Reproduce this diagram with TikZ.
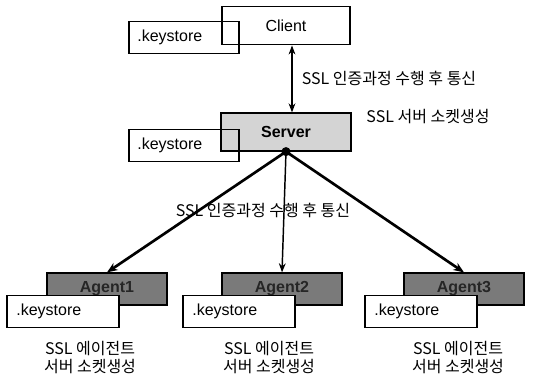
\documentclass[tikz,border=0pt]{standalone}
\usepackage{fontspec}
\setmainfont{Liberation Sans}
\newfontfamily\krfont{Noto Sans CJK KR}
\usetikzlibrary{arrows.meta, positioning}

\begin{document}
\begin{tikzpicture}[
    x=0.75pt, y=-0.75pt,
    every node/.style={font=\fontsize{12}{14}\selectfont},
    hostbox/.style={draw, line width=0.9pt, minimum width=96pt, minimum height=29pt, inner sep=0pt},
    srvbox/.style={hostbox, fill=black!17, minimum width=97.5pt, minimum height=28.5pt, font=\fontsize{12}{14}\selectfont\bfseries},
    agentbox/.style={draw, line width=0.9pt, fill=black!52, text=black!85, minimum width=90pt, minimum height=24pt, inner sep=0pt, font=\fontsize{12}{14}\selectfont\bfseries},
    keybox/.style={draw, line width=0.9pt, minimum width=82.5pt, minimum height=23.5pt, text width=70pt, inner xsep=6pt, inner ysep=0pt, align=left},
    krlabel/.style={font=\fontsize{12}{13.5}\selectfont\krfont, align=center, inner sep=1pt},
    biar/.style={{Stealth[length=2.4mm, width=1.8mm]}-{Stealth[length=2.4mm, width=1.8mm]}, line width=0.8pt},
    ar/.style={-{Stealth[length=2.8mm, width=2.2mm]}, line width=2pt},
    thinar/.style={-{Stealth[length=2.4mm, width=1.8mm]}, line width=1.1pt}
]
\useasboundingbox (0,0) rectangle (536,380);
% ----- Client and Server -----
\node[hostbox] (client) at (286,25.5) {Client};
\node[keybox] (ks0) at (184,37.5) {.keystore};
\node[srvbox] (server) at (286,132) {Server};
\node[keybox] (ks1) at (184,145.5) {.keystore};
\node[krlabel] (srvsock) at (428,117) {SSL 서버 소켓생성};
% ----- Agents -----
\node[agentbox] (agent1) at (107,289) {Agent1};
\node[agentbox] (agent2) at (282,289) {Agent2};
\node[agentbox] (agent3) at (464,289) {Agent3};
\node[keybox, fill=white, minimum width=84pt, minimum height=24.5pt] (ksa1) at (63,311.5) {.keystore};
\node[keybox, fill=white, minimum width=84pt, minimum height=24.5pt] (ksa2) at (239,311.5) {.keystore};
\node[keybox, fill=white, minimum width=84pt, minimum height=24.5pt] (ksa3) at (421,311.5) {.keystore};
\node[krlabel] (sock1) at (90,358) {SSL 에이전트\\서버 소켓생성};
\node[krlabel] (sock2) at (269,358) {SSL 에이전트\\서버 소켓생성};
\node[krlabel] (sock3) at (458,358) {SSL 에이전트\\서버 소켓생성};
% client <-> server
\draw[biar] ([xshift=4.5pt]client.south) -- node[krlabel, right=6pt]{SSL 인증과정 수행 후 통신} ([xshift=4.5pt]server.north);
% server -> agents
\fill (server.south) circle (3.4pt);
\draw[ar] (server.south) -- (agent1.north);
\draw[thinar] (server.south) -- (agent2.north);
\draw[ar] (server.south) -- (agent3.north);
\node[krlabel] (handshake) at (263,210) {SSL 인증과정 수행 후 통신};
\end{tikzpicture}
\end{document}
